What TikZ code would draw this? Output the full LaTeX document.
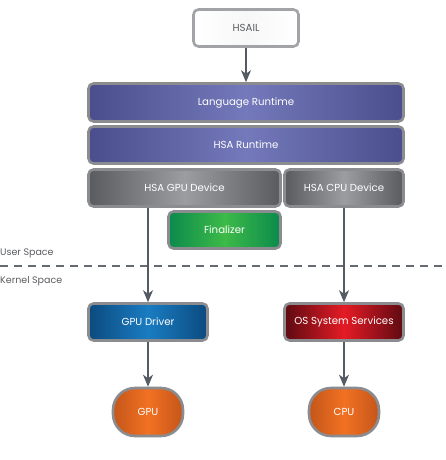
\documentclass[tikz,border=0pt]{standalone}
\usepackage{fontspec}
\setmainfont{Poppins}
\usetikzlibrary{arrows.meta}
\definecolor{frame}{HTML}{8A8C90}
\definecolor{arr}{HTML}{555B63}
\definecolor{purpE}{HTML}{4A4E8C}
\definecolor{purpM}{HTML}{7479BB}
\definecolor{grayE}{HTML}{5A5B5E}
\definecolor{grayM}{HTML}{9C9DA0}
\definecolor{greenE}{HTML}{0B8A4C}
\definecolor{greenM}{HTML}{3DBA48}
\definecolor{blueE}{HTML}{0C4A7E}
\definecolor{blueM}{HTML}{1A7CC2}
\definecolor{redE}{HTML}{5E0A12}
\definecolor{redM}{HTML}{E41B25}
\definecolor{orE}{HTML}{C4561A}
\definecolor{orM}{HTML}{F27122}
\definecolor{txt}{HTML}{5A5C60}
\tikzset{
  blk/.style={draw=frame, line width=2.6pt, rounded corners=5pt, text=white,
    font=\fontsize{10.2}{12}\selectfont, inner sep=0pt, align=center},
  purp/.style={blk, left color=purpE, right color=purpE, middle color=purpM},
  grayb/.style={blk, left color=grayE, right color=grayE, middle color=grayM},
  greenb/.style={blk, left color=greenE, right color=greenE, middle color=greenM},
  blueb/.style={blk, left color=blueE, right color=blueE, middle color=blueM},
  redb/.style={blk, left color=redE, right color=redE, middle color=redM},
  orb/.style={blk, left color=orE, right color=orE, middle color=orM, rounded corners=22pt},
  whiteb/.style={blk, draw=frame!80, left color=white, right color=white, middle color=gray!6, text=txt},
  conn/.style={draw=arr, line width=1.3pt, -{Stealth[length=12pt,width=10pt,inset=3.5pt]}},
  lbl/.style={text=txt, font=\fontsize{9.5}{11}\selectfont, inner sep=0pt, anchor=west}
}
\begin{document}
\begin{tikzpicture}[x=1pt,y=-1pt]
\useasboundingbox (0,0) rectangle (446,460);
\node[whiteb, minimum width=105pt, minimum height=37pt] (hsail) at (246,28) {HSAIL};
\node[purp, minimum width=315pt, minimum height=38pt] (lang) at (246,102.5) {Language Runtime};
\node[purp, minimum width=315pt, minimum height=37pt] (hsart) at (246,145) {HSA Runtime};
\node[grayb, minimum width=192pt, minimum height=37pt] (gpudev) at (184.5,188) {HSA GPU Device};
\node[grayb, minimum width=119pt, minimum height=37pt] (cpudev) at (344,188) {HSA CPU Device};
\node[greenb, minimum width=112pt, minimum height=37pt] (fin) at (224.5,230) {Finalizer};
\node[blueb, minimum width=119pt, minimum height=37pt] (gpudrv) at (148,322) {GPU Driver};
\node[redb, minimum width=119pt, minimum height=37pt] (ossvc) at (344,322) {OS System Services};
\node[orb, minimum width=70pt, minimum height=48pt] (gpu) at (148,412) {GPU};
\node[orb, minimum width=70pt, minimum height=48pt] (cpu) at (344,412) {CPU};
\coordinate (dl) at (0,266);
\coordinate (dr) at (446,266);
\draw[draw=arr!90, line width=1.2pt, dash pattern=on 8pt off 6pt] (dl) -- (dr);
\node[lbl] (user) at (0,253) {User Space};
\node[lbl] (kern) at (0,281) {Kernel Space};
\draw[conn] (hsail) -- (lang);
\draw[conn] (gpudev.south -| gpudrv.north) -- (gpudrv.north);
\draw[conn] (cpudev.south -| ossvc.north) -- (ossvc.north);
\draw[conn] (gpudrv) -- (gpu);
\draw[conn] (ossvc) -- (cpu);
\end{tikzpicture}
\end{document}
